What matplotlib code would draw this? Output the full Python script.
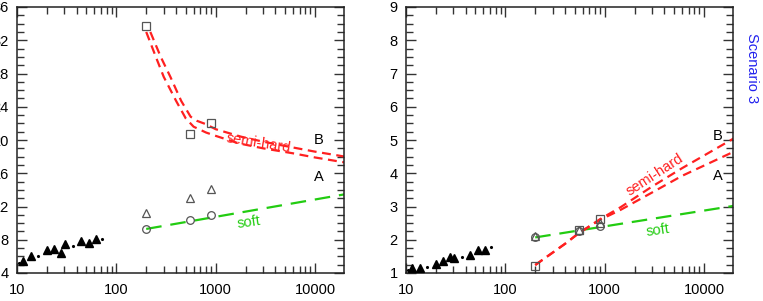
import numpy as np
import matplotlib
matplotlib.use("Agg")
import matplotlib.pyplot as plt
from matplotlib.ticker import FixedLocator, MultipleLocator, NullFormatter

plt.rcParams['font.family'] = ['Liberation Sans', 'DejaVu Sans']

# lattice points (filled triangles), shared x positions
lat_x = [11.4, 13.7, 20, 23.7, 27.6, 30.3, 44.3, 52.5, 62.8]
lat_left = [5.45, 6.1, 6.75, 6.85, 6.45, 7.45, 7.9, 7.65, 8.05]
lat_right = [1.16, 1.16, 1.26, 1.36, 1.49, 1.44, 1.54, 1.69, 1.69]
dot_x = [10.4, 16.4, 36.5, 71]
dot_left = [5.2, 6.1, 7.3, 8.05]
dot_right = [1.1, 1.19, 1.47, 1.79]

# model points at three masses
mass = [200, 546, 906]
sq_left = [33.75, 20.7, 22.0]
tri_left = [11.2, 13.0, 14.1]
circ_left = [9.3, 10.35, 11.0]
sq_right = [1.22, 2.29, 2.62]
tri_right = [2.1, 2.3, 2.5]
circ_right = [2.07, 2.27, 2.41]

# soft (green) lines
soft_x = [200, 20000]
soft_left = [9.3, 13.47]
soft_right = [2.07, 3.02]

# semi-hard (red) bands, left panel
sh_lo_x = [200, 250, 300, 400, 500, 600, 800, 1000, 1700, 3000, 6000, 10000, 20000]
sh_lo_left = [33.0, 30.0, 27.6, 24.7, 22.6, 21.6, 20.9, 20.5, 19.6, 19.0, 18.4, 17.9, 17.3]
sh_hi_x = [220, 280, 350, 450, 560, 650, 800, 1000, 1800, 3000, 6000, 10000, 20000]
sh_hi_left = [33.0, 30.0, 27.6, 24.7, 22.8, 22.3, 21.9, 21.3, 20.4, 19.8, 19.1, 18.6, 18.0]

# semi-hard bands, right panel
shr_x = [200, 400, 550, 900, 1450, 3000, 6000, 20000]
shr_hi = [1.24, 1.88, 2.2, 2.62, 2.98, 3.6, 4.15, 5.05]
shr_lo = [1.24, 1.88, 2.2, 2.6, 2.9, 3.42, 3.92, 4.65]

RED = '#ff2020'
GREEN = '#22cc11'
GRAY = '#555555'


def style_axis(ax, ylo, yhi, ymaj, ymin):
    ax.set_xscale('log')
    ax.set_xlim(10, 19600)
    ax.set_ylim(ylo, yhi)
    ax.yaxis.set_major_locator(MultipleLocator(ymaj))
    ax.yaxis.set_minor_locator(MultipleLocator(ymin))
    ax.xaxis.set_major_locator(FixedLocator([10, 100, 1000, 10000]))
    ax.xaxis.set_minor_locator(FixedLocator(
        [m * 10 ** e for e in range(1, 5) for m in range(2, 10)]))
    ax.xaxis.set_minor_formatter(NullFormatter())
    ax.set_xticklabels(['10', '100', '1000', '10000'])
    ax.tick_params(which='both', direction='in', top=True, right=True,
                   color='#333333', width=1.0, labelsize=10.5)
    ax.tick_params(which='major', length=7)
    ax.tick_params(which='minor', length=5)
    ax.tick_params(axis='x', pad=7)
    ax.tick_params(axis='y', pad=6)
    for s in ax.spines.values():
        s.set_linewidth(1.1)
        s.set_color('#222222')


def draw_points(ax, lat, dots, sq, tri, circ):
    ax.plot(lat_x, lat, '^', color='black', ms=6, mec='black', zorder=4)
    ax.plot(dot_x, dots, '.', color='black', ms=2.5, zorder=4)
    ax.plot(mass, sq, 's', mfc='none', mec=GRAY, ms=5.5, mew=0.9, zorder=5)
    ax.plot(mass, tri, '^', mfc='none', mec=GRAY, ms=5.5, mew=0.9, zorder=5)
    ax.plot(mass, circ, 'o', mfc='none', mec=GRAY, ms=5.5, mew=0.9, zorder=5)


fig = plt.figure(figsize=(7.63, 3.01), dpi=100)
ax1 = fig.add_axes([17 / 763, 28 / 301, 327 / 763, 266 / 301])
ax2 = fig.add_axes([406 / 763, 28 / 301, 327 / 763, 266 / 301])

# left panel
style_axis(ax1, 4, 36, 4, 1)
ax1.plot(soft_x, soft_left, color=GREEN, lw=1.6, dashes=(7, 4))
ax1.plot(sh_lo_x, sh_lo_left, color=RED, lw=1.6, dashes=(4, 2.5))
ax1.plot(sh_hi_x, sh_hi_left, color=RED, lw=1.6, dashes=(4, 2.5))
draw_points(ax1, lat_left, dot_left, sq_left, tri_left, circ_left)
ax1.text(2700, 19.6, 'semi-hard', color=RED, fontsize=10.5, rotation=-9,
         ha='center', va='center')
ax1.text(11000, 20.0, 'B', fontsize=10.5, ha='center', va='center')
ax1.text(11000, 15.5, 'A', fontsize=10.5, ha='center', va='center')
ax1.text(2150, 10.1, 'soft', color=GREEN, fontsize=10.5, rotation=8,
         ha='center', va='center')

# right panel
style_axis(ax2, 1, 9, 1, 0.25)
ax2.plot(soft_x, soft_right, color=GREEN, lw=1.6, dashes=(7, 4))
ax2.plot(shr_x, shr_lo, color=RED, lw=1.6, dashes=(4, 2.5))
ax2.plot(shr_x, shr_hi, color=RED, lw=1.6, dashes=(4, 2.5))
draw_points(ax2, lat_right, dot_right, sq_right, tri_right, circ_right)
ax2.text(3200, 3.95, 'semi-hard', color=RED, fontsize=10.5, rotation=33,
         ha='center', va='center')
ax2.text(13700, 5.12, 'B', fontsize=10.5, ha='center', va='center')
ax2.text(13700, 3.92, 'A', fontsize=10.5, ha='center', va='center')
ax2.text(3400, 2.27, 'soft', color=GREEN, fontsize=10.5, rotation=8,
         ha='center', va='center')

fig.text(752 / 763, 1 - 68 / 301, 'Scenario 3', color='#2222ee', fontsize=10.5,
         rotation=-90, ha='center', va='center')

fig.savefig('out.png', dpi=100)
